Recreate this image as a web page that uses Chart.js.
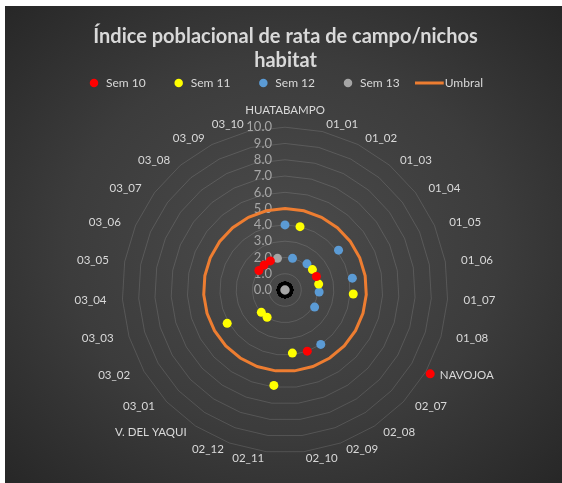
<!DOCTYPE html>
<html>
<head>
<meta charset="utf-8">
<script src="https://cdn.jsdelivr.net/npm/chart.js@4"></script>
<style>
  html, body { margin: 0; padding: 0; background: #fff; }
  #box {
    position: absolute; left: 5px; top: 6px; width: 557px; height: 477px;
    background: radial-gradient(ellipse at 50% 50%, #4b4b4b 0%, #3c3c3c 55%, #272727 100%);
  }
</style>
</head>
<body>
<div id="box"><canvas id="radar" width="557" height="477"></canvas></div>
<script>
const categories = ["HUATABAMPO", "01_01", "01_02", "01_03", "01_04", "01_05", "01_06", "01_07", "01_08",
  "NAVOJOA", "02_07", "02_08", "02_09", "02_10", "02_11", "02_12", "V. DEL YAQUI",
  "03_01", "03_02", "03_03", "03_04", "03_05", "03_06", "03_07", "03_08", "03_09", "03_10"];

const sem10 = [0, 0, 0, 0, 0, 2.1, 0, 0, 0, 10.3, 0, 0, 4.0, 0, 0, 0, 0, 0, 0, 0, 0, 0, 0, 2.0, 2.0, 2.0, 0];
const sem11 = [0, 4.0, 0, 0, 2.1, 0, 2.1, 4.2, 0, 0, 0, 0, 0, 3.9, 5.9, 0, 2.0, 2.0, 4.1, 0, 0, 0, 0, 0, 0, 0, 0];
const sem12 = [4.0, 2.0, 0, 2.1, 4.1, 0, 4.2, 2.1, 0, 2.1, 0, 4.0, 0, 0, 0, 0, 0, 0, 0, 0, 0, 0, 0, 0, 0, 0, 0];
const sem13 = [0, 0, 0, 0, 0, 0, 0, 0, 0, 0, 0, 0, 0, 0, 0, 0, 0, 0, 0, 0, 0, 0, 0, 0, 0, 0, 2.0];
const umbral = categories.map(() => 5);

const tickValues = [0, 1, 2, 3, 4, 5, 6, 7, 8, 9, 10];

const FONT = "Lato, 'Liberation Sans', sans-serif";
const TEXT = "#d9d9d9";
const ORANGE = "#ed7d31";

// hide the zero markers (they sit under the Sem 13 dot in the centre)
const hideZero = (r) => (ctx) => (ctx.raw === 0 ? 0 : r);

function pointSeries(label, data, color) {
  return {
    label: label,
    data: data,
    showLine: false,
    fill: false,
    backgroundColor: color,
    borderColor: color,
    pointBackgroundColor: color,
    pointBorderColor: color,
    pointBorderWidth: 0,
    pointRadius: hideZero(4.5),
    pointHoverRadius: hideZero(5),
    pointStyle: "circle",
  };
}

// long line swatch for the "Umbral" legend entry
const lineSwatch = document.createElement("canvas");
lineSwatch.width = 36;
lineSwatch.height = 4;
(function () {
  const c = lineSwatch.getContext("2d");
  c.fillStyle = ORANGE;
  c.fillRect(0, 0.5, 29, 3);
})();

// tick labels to the left of the vertical axis, like the original
const tickLabels = {
  id: "tickLabels",
  beforeDatasetsDraw(chart) {
    const scale = chart.scales.r;
    const ctx = chart.ctx;
    ctx.save();
    ctx.font = "13px " + FONT;
    ctx.fillStyle = "#a6a6a6";
    ctx.textAlign = "right";
    ctx.textBaseline = "middle";
    tickValues.forEach((v) => {
      const p = scale.getPointPositionForValue(0, v);
      ctx.fillText(v.toFixed(1), p.x - 13, p.y);
    });
    ctx.restore();
  },
};

// category labels placed the way Excel does it
const categoryLabels = {
  id: "categoryLabels",
  beforeDatasetsDraw(chart) {
    const s = chart.scales.r;
    const ctx = chart.ctx;
    const R = s.drawingArea;
    ctx.save();
    ctx.font = "11.5px " + FONT;
    ctx.fillStyle = TEXT;
    ctx.textAlign = "center";
    ctx.textBaseline = "middle";
    categories.forEach((lab, i) => {
      const w = ctx.measureText(lab).width;
      const px = s.getPointPosition(i, R + 16).x;
      let y = s.getPointPosition(i, R + 7).y;
      const side = Math.abs(px - s.xCenter) < 0.5 ? 0 : Math.sign(px - s.xCenter);
      const x = side === 0 ? s.xCenter : px + side * w / 2;
      if (side === 0) y -= 10;
      ctx.fillText(lab, x, y);
    });
    ctx.restore();
  },
};

new Chart(document.getElementById("radar"), {
  type: "radar",
  data: {
    labels: categories,
    datasets: [
      pointSeries("Sem 10", sem10, "#ff0000"),
      pointSeries("Sem 11", sem11, "#ffff00"),
      pointSeries("Sem 12", sem12, "#5b9bd5"),
      {
        label: "Sem 13",
        data: sem13,
        showLine: false,
        fill: false,
        backgroundColor: "#a5a5a5",
        borderColor: "#a5a5a5",
        pointBackgroundColor: "#a5a5a5",
        pointBorderColor: (ctx) => (ctx.raw === 0 ? "#000" : "#a5a5a5"),
        pointBorderWidth: (ctx) => (ctx.raw === 0 ? 3.5 : 0),
        pointRadius: (ctx) => (ctx.raw === 0 ? 6.5 : 4.5),
        pointStyle: "circle",
      },
      {
        label: "Umbral",
        data: umbral,
        borderColor: ORANGE,
        backgroundColor: ORANGE,
        borderWidth: 3,
        fill: false,
        pointRadius: 0,
        pointHoverRadius: 0,
      },
    ],
  },
  plugins: [tickLabels, categoryLabels],
  options: {
    responsive: false,
    animation: false,
    layout: { padding: { top: 2, bottom: 2, left: 4, right: 0 } },
    plugins: {
      title: {
        display: true,
        text: ["Índice poblacional de rata de campo/nichos", "habitat"],
        color: TEXT,
        font: { family: FONT, size: 20, weight: "bold", lineHeight: 1.2 },
        padding: { top: 17, bottom: -23 },
      },
      legend: {
        position: "top",
        labels: {
          color: TEXT,
          font: { family: FONT, size: 12 },
          usePointStyle: true,
          boxHeight: 6,
          padding: 27,
          generateLabels(chart) {
            const items = Chart.defaults.plugins.legend.labels.generateLabels(chart);
            items.forEach((it) => {
              if (it.text === "Umbral") {
                it.pointStyle = lineSwatch;
              } else {
                it.pointStyle = "circle";
                it.lineWidth = 0;
                it.strokeStyle = it.fillStyle;
              }
            });
            return items;
          },
        },
      },
      tooltip: { enabled: false },
    },
    scales: {
      r: {
        min: 0,
        max: 10,
        beginAtZero: true,
        ticks: { display: false, stepSize: 1 },
        grid: { color: "rgba(255,255,255,0.13)", lineWidth: 1, circular: false },
        angleLines: { display: false },
        pointLabels: {
          // kept for the layout only, the visible labels come from categoryLabels
          color: "rgba(0,0,0,0)",
          font: { family: FONT, size: 11 },
          padding: 15,
        },
      },
    },
  },
});
</script>
</body>
</html>
